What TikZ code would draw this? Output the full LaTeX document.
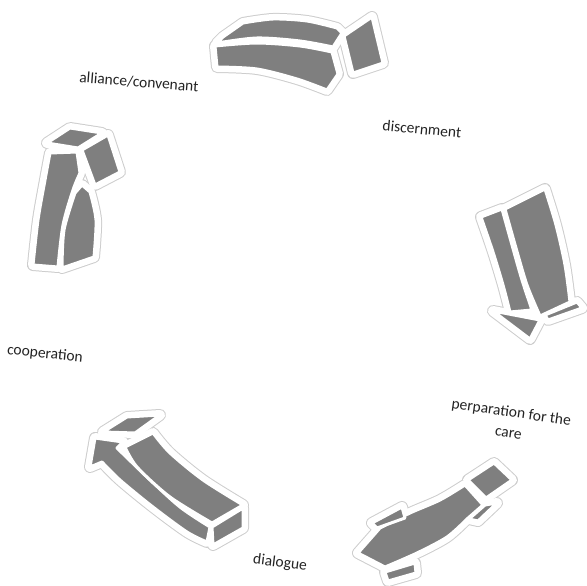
\documentclass[tikz,border=0pt]{standalone}
\usepackage{fontspec}
\setmainfont{Carlito}
\definecolor{arrowgray}{RGB}{127,127,127}
\definecolor{glowgray}{RGB}{205,205,205}
\definecolor{labelgray}{RGB}{35,35,35}
\tikzset{
  glow/.style={draw=glowgray, fill=glowgray, line width=12pt, line join=round},
  halo/.style={draw=white, fill=white, line width=10pt, line join=round},
  face/.style={fill=arrowgray, draw=white, line width=3pt, line join=round},
  lbl/.style={font=\fontsize{15.5}{20.5}\selectfont, text=labelgray, align=center, inner sep=0pt}
}
\newcommand{\arrowTop}[1]{%
  \path[#1] (223,37) -- plot[smooth] coordinates {(243,23) (273,19) (307,21) (337,28)} -- (342,33) -- plot[smooth] coordinates {(333,47) (300,41) (257,38) (217,43)} -- cycle;
  \path[#1] plot[smooth] coordinates {(215,46) (257,43) (300,46) (332,52)} -- (338,74) -- plot[smooth] coordinates {(327,90) (297,79) (257,69) (217,67)} -- cycle;
  \path[#1] (344,36) -- (372,17) -- (383,63) -- (353,73) -- cycle;
}
\newcommand{\arrowRight}[1]{%
  \path[#1] (481,217) -- plot[smooth] coordinates {(502,209) (512,245) (522,280) (532,310)} -- plot[smooth] coordinates {(510,312) (503,285) (493,252) (481,217)} -- cycle;
  \path[#1] (505,209) -- plot[smooth] coordinates {(545,189) (556,225) (565,265) (570,302)} -- plot[smooth] coordinates {(540,316) (527,285) (516,248) (505,209)} -- cycle;
  \path[#1] (493,311) -- (540,320) -- (530,339) -- cycle;
  \path[#1] (545,315) -- (577,302) -- (582,308) -- (548,320) -- cycle;
}
\newcommand{\arrowBR}[1]{%
  \path[#1] (468,480) -- (494,463) -- (512,480) -- (486,498) -- cycle;
  \path[#1] (469,519) -- (485,505) -- (497,503) -- (478,521) -- cycle;
  \path[#1] plot[smooth] coordinates {(465,485) (440,500) (410,513) (380,528)} -- (358,553) -- plot[smooth] coordinates {(385,567) (417,553) (447,537) (467,519)} -- (483,505) -- cycle;
  \path[#1] (372,523) -- (402,507) -- (405,518) -- (377,528) -- cycle;
  \path[#1] (385,572) -- (415,563) -- (416,573) -- (388,581) -- cycle;
}
\newcommand{\arrowBL}[1]{%
  \path[#1] (103,432) -- (127,417) -- (160,415) -- (135,433) -- cycle;
  \path[#1] (95,438) -- (123,442) -- plot[smooth] coordinates {(117,448) (147,477) (180,507) (210,527)} -- plot[smooth] coordinates {(207,542) (187,532) (153,507) (120,480) (102,462)} -- (90,467) -- cycle;
  \path[#1] (125,447) -- plot[smooth] coordinates {(153,433) (170,453) (203,480) (243,505)} -- plot[smooth] coordinates {(212,523) (170,497) (137,467) (125,447)} -- cycle;
  \path[#1] (212,527) -- (243,508) -- (243,528) -- (213,545) -- cycle;
}
\newcommand{\arrowLeft}[1]{%
  \path[#1] (47,143) -- (70,128) -- (102,133) -- (78,148) -- cycle;
  \path[#1] (82,150) -- (108,135) -- (120,172) -- (95,185) -- cycle;
  \path[#1] (50,153) -- (77,152) -- plot[smooth] coordinates {(80,173) (73,190) (63,225) (58,267)} -- plot[smooth] coordinates {(33,265) (38,220) (45,180) (50,153)} -- cycle;
  \path[#1] (75,193) -- (82,185) -- plot[smooth] coordinates {(90,192) (96,220) (94,257)} -- plot[smooth] coordinates {(62,268) (64,230) (75,193)} -- cycle;
}
\begin{document}
\begin{tikzpicture}[x=1pt,y=-1pt]
\useasboundingbox (0,0) rectangle (587,586);
\arrowTop{glow}\arrowRight{glow}\arrowBR{glow}\arrowBL{glow}\arrowLeft{glow}
\arrowTop{halo}\arrowRight{halo}\arrowBR{halo}\arrowBL{halo}\arrowLeft{halo}
\arrowTop{face}\arrowRight{face}\arrowBR{face}\arrowBL{face}\arrowLeft{face}
\node[lbl, rotate=-4.5] (alliance) at (139,82) {alliance/convenant};
\node[lbl, rotate=-5.5] (discern) at (422,129) {discernment};
\node[lbl, rotate=-8] (prep) at (510,422) {perparation for the\\care};
\node[lbl, rotate=-7] (dialogue) at (280,563) {dialogue};
\node[lbl, rotate=-6] (coop) at (45,354) {cooperation};
\end{tikzpicture}
\end{document}
